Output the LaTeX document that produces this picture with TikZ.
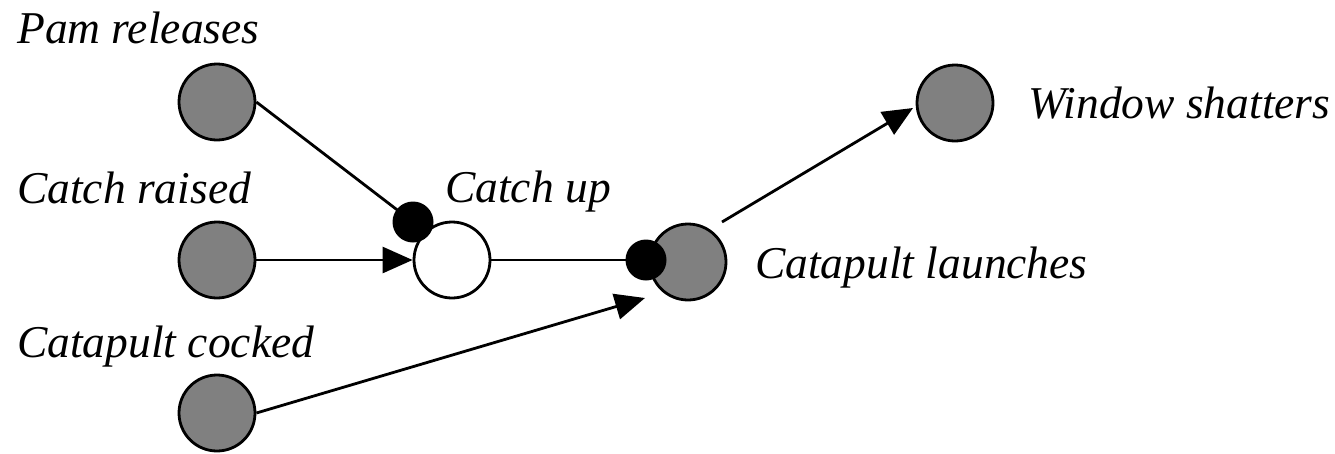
\documentclass[tikz,border=0pt]{standalone}
\usepackage{fontspec}
\setmainfont{Liberation Serif}
\usetikzlibrary{arrows.meta}
\begin{document}
\begin{tikzpicture}[x=1pt,y=-1pt,
 ev/.style={circle,draw=black,line width=2.8pt,fill=black!50,minimum size=76pt,inner sep=0pt},
 evw/.style={ev,fill=white},
 blackdot/.style={circle,fill=black,minimum size=41pt,inner sep=0pt},
 lbl/.style={anchor=base west,inner sep=0pt,font=\fontsize{45.5}{50}\selectfont\itshape},
 conn/.style={line width=2.8pt},
 arr/.style={conn,-{Triangle[length=30pt,width=26pt]}}]
\useasboundingbox (0,0) rectangle (1335,453);
% events
\node[ev] (pam) at (217,102) {};
\node[ev] (raised) at (217,260) {};
\node[ev] (cocked) at (217,413) {};
\node[evw] (catchup) at (452,260) {};
\node[ev] (launch) at (688,262) {};
\node[ev] (window) at (955,103) {};
% connector end points
\coordinate (cTip) at (645,298);
\coordinate (lStart) at (722,222);
\coordinate (wTip) at (913,108);
\coordinate (dA) at (413,222);
\coordinate (dB) at (646,260);
% connectors
\draw[conn] (pam.east) -- (dA);
\draw[arr] (raised.east) -- (catchup.west);
\draw[conn] (catchup.east) -- (dB);
\draw[arr] (cocked.east) -- (cTip);
\draw[arr] (lStart) -- (wTip);
% inhibitor/enabler dots
\node[blackdot] (dotA) at (dA) {};
\node[blackdot] (dotB) at (dB) {};
% labels
\node[lbl] (tpam) at (17,43) {Pam releases};
\node[lbl] (traised) at (17,203) {Catch raised};
\node[lbl] (tcocked) at (17,357) {Catapult cocked};
\node[lbl] (tcatchup) at (445,202) {Catch up};
\node[lbl] (tlaunch) at (755,278) {Catapult launches};
\node[lbl] (twindow) at (1028,118) {Window shatters};
\end{tikzpicture}
\end{document}
